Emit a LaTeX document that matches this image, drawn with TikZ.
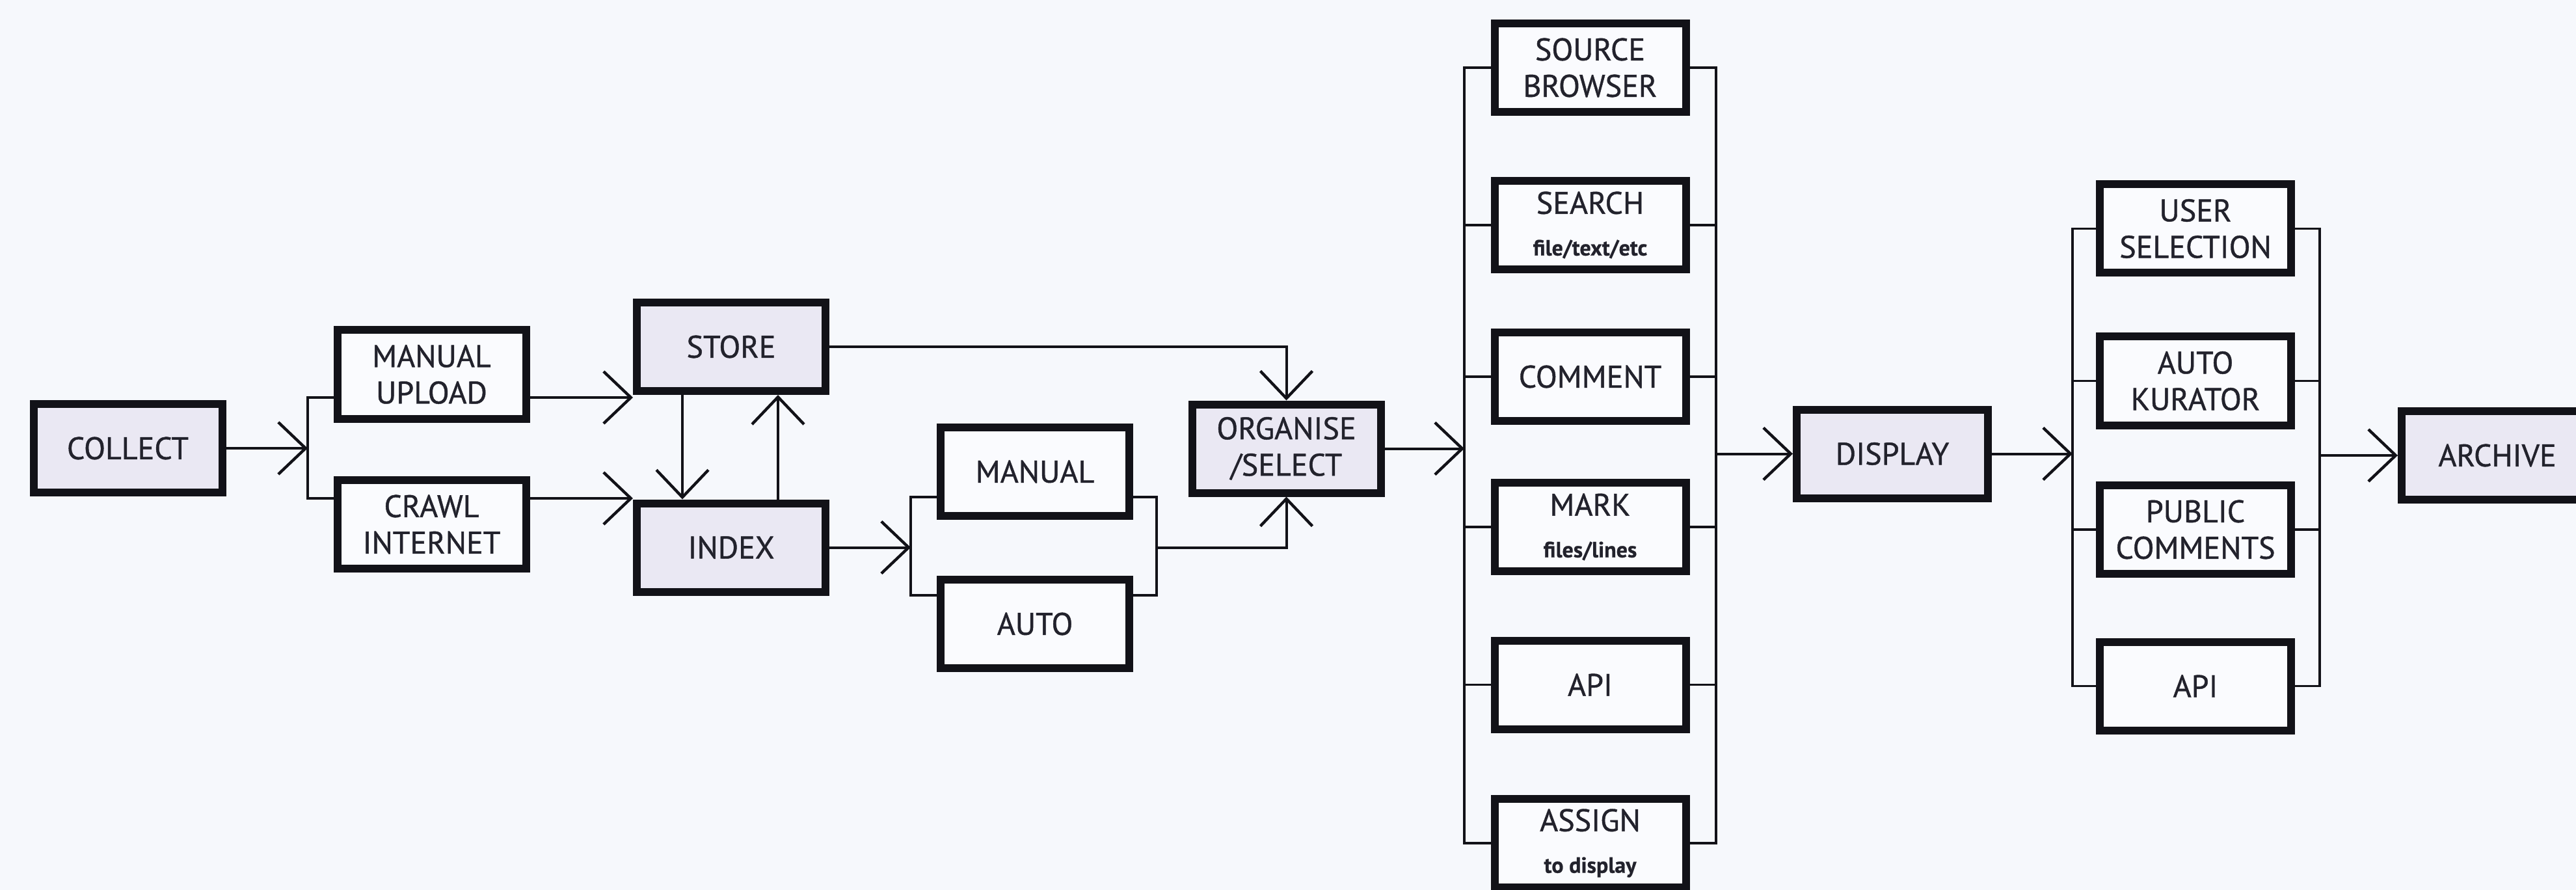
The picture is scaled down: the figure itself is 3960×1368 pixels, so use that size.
\documentclass[tikz,border=0pt]{standalone}
\usepackage{fontspec}
\setmainfont{PT Sans}
\newfontfamily\lblfont[FakeBold=0.9]{PT Sans}
\newfontfamily\subfont[FakeBold=0.6]{PT Sans Bold}
\usetikzlibrary{arrows.meta}
\definecolor{bg}{RGB}{246,248,252}
\definecolor{lav}{RGB}{234,232,243}
\definecolor{wbox}{RGB}{250,251,254}
\definecolor{ink}{RGB}{18,18,24}
\definecolor{txt}{RGB}{34,34,44}
\newcommand{\sublbl}[1]{{\subfont\fontsize{8.5}{9}\selectfont #1}}
\begin{document}
\begin{tikzpicture}[x=0.25pt,y=-0.25pt,
  box/.style={draw=ink, line width=3pt, fill=wbox, inner sep=0pt,
    minimum width=72.5pt, minimum height=34pt, align=center, text=txt,
    font=\lblfont\fontsize{12}{14}\selectfont},
  mainbox/.style={box, fill=lav},
  widebox/.style={minimum width=73.5pt},
  ln/.style={draw=ink, line width=0.9pt},
  arr/.style={draw=ink, line width=1pt,
    -{Straight Barb[length=10.5pt,width=20pt,line width=1.1pt]}}
]
\fill[bg] (0,0) rectangle (3960,1368);
\useasboundingbox (0,0) rectangle (3960,1368);

% nodes
\node[mainbox] (collect) at (196.5,689) {COLLECT};
\node[box] (mu) at (663.5,575.5) {MANUAL\\UPLOAD};
\node[box] (ci) at (663.5,806) {CRAWL\\INTERNET};
\node[mainbox] (store) at (1124,533) {STORE};
\node[mainbox] (index) at (1124,841.5) {INDEX};
\node[box] (man) at (1591,725) {MANUAL};
\node[box] (auto) at (1591,959) {AUTO};
\node[mainbox] (org) at (1977.5,689.5) {ORGANISE\\/SELECT};

\node[box,widebox] (src) at (2444.5,104) {SOURCE\\BROWSER};
\node[box,widebox] (srch) at (2444.5,346) {SEARCH\\[2pt]\sublbl{file/text/etc}};
\node[box,widebox] (cmt) at (2444.5,579) {COMMENT};
\node[box,widebox] (mark) at (2444.5,810) {MARK\\[2pt]\sublbl{files/lines}};
\node[box,widebox] (api) at (2444.5,1052.5) {API};
\node[box,widebox] (asg) at (2444.5,1296) {ASSIGN\\[2pt]\sublbl{to display}};

\node[mainbox,widebox] (disp) at (2909,697.5) {DISPLAY};
\node[box,widebox] (usr) at (3375,351.5) {USER\\SELECTION};
\node[box,widebox] (kur) at (3375,585.5) {AUTO\\KURATOR};
\node[box,widebox] (pub) at (3375,814) {PUBLIC\\COMMENTS};
\node[box,widebox] (api2) at (3375,1054.5) {API};
\node[mainbox,widebox] (arch) at (3839,700) {ARCHIVE};

% bus coordinates
\coordinate (b1t) at (473,611);
\coordinate (b1b) at (473,766);
\coordinate (b2t) at (1400,764);
\coordinate (b2b) at (1400,915);
\coordinate (b2rt) at (1778,764);
\coordinate (b2rb) at (1778,915);
\coordinate (b3l) at (2251,0);
\coordinate (b3r) at (2638,0);
\coordinate (b4l) at (3186,0);
\coordinate (b4r) at (3566,0);

% collect fan-out
\draw[arr] (collect.east) -- (collect.east -| b1t);
\draw[ln] (b1t -| mu.west) -- (b1t) -- (b1b) -- (b1b -| ci.west);
\draw[arr] (b1t -| mu.east) -- (b1t -| store.west);
\draw[arr] (b1b -| ci.east) -- (b1b -| index.west);

% store / index
\draw[arr] ([xshift=-18.75pt]store.south) -- ([xshift=-18.75pt]index.north);
\draw[arr] ([xshift=18pt]index.north) -- ([xshift=18pt]store.south);
\draw[arr] (store.east) -| (org.north);

% index to manual/auto
\draw[arr] (index.east) -- (index.east -| b2t);
\draw[ln] (b2t -| man.west) -- (b2t) -- (b2b) -- (b2b -| auto.west);
\draw[ln] (b2rt -| man.east) -- (b2rt) -- (b2rb) -- (b2rb -| auto.east);
\draw[arr] (b2rt |- index.east) -| (org.south);

% organise to tools bus
\draw[arr] (org.east) -- (org.east -| b3l);
\draw[ln] (src.west) -- (src.west -| b3l) -- (asg.west -| b3l) -- (asg.west);
\draw[ln] (src.east) -- (src.east -| b3r) -- (asg.east -| b3r) -- (asg.east);
\foreach \n in {srch,cmt,mark,api}{
  \draw[ln] (\n.west) -- (\n.west -| b3l);
  \draw[ln] (\n.east) -- (\n.east -| b3r);
}
\draw[arr] (disp.west -| b3r) -- (disp.west);

% display to curation bus
\draw[arr] (disp.east) -- (disp.east -| b4l);
\draw[ln] (usr.west) -- (usr.west -| b4l) -- (api2.west -| b4l) -- (api2.west);
\draw[ln] (usr.east) -- (usr.east -| b4r) -- (api2.east -| b4r) -- (api2.east);
\foreach \n in {kur,pub}{
  \draw[ln] (\n.west) -- (\n.west -| b4l);
  \draw[ln] (\n.east) -- (\n.east -| b4r);
}
\draw[arr] (arch.west -| b4r) -- (arch.west);
\end{tikzpicture}
\end{document}
